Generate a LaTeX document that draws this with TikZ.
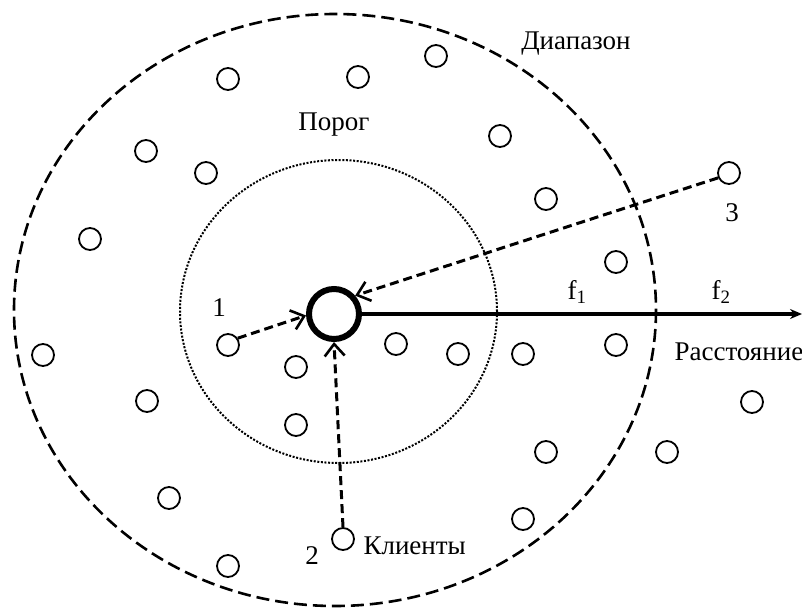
\documentclass[tikz,border=0pt]{standalone}
\usepackage{fontspec}
\setmainfont{Liberation Serif}
\usetikzlibrary{arrows.meta}

\tikzset{
  client/.style={draw, circle, line width=1.8pt, minimum size=22pt, inner sep=0pt},
  hub/.style={draw, circle, line width=6pt, minimum size=50pt, inner sep=0pt},
  link/.style={dash pattern=on 9pt off 5pt, line width=3pt,
    -{Straight Barb[length=12pt,width=20pt,line width=2.6pt]}},
}

\begin{document}
\begin{tikzpicture}[x=1pt, y=-1pt, font=\fontsize{27}{32}\selectfont]
  \useasboundingbox (0,0) rectangle (802,610);

  % range and threshold
  \draw[line width=2.6pt, dash pattern=on 13pt off 6pt] (335,310) ellipse (321 and 296);
  \draw[line width=2pt, dash pattern=on 2pt off 1.6pt] (338.5,311.5) ellipse (158.5 and 151.5);

  \node[hub] (hub) at (334,314) {};
  \coordinate (axisend) at (802,314);
  \draw[line width=3.6pt, -{Stealth[length=12pt,width=10pt]}] (hub.east) -- (axisend);

  % clients
  \node[client] (c1) at (228,345) {};
  \node[client] (c2) at (343,539) {};
  \node[client] (c3) at (729,173) {};
  \foreach \px/\py [count=\k] in {228/79, 358/77, 436/56, 146/151, 206/173, 500/136,
      546/199, 90/239, 616/262, 43/355, 296/367, 396/344, 458/354, 523/354, 616/345,
      752/402, 147/401, 296/425, 546/452, 667/452, 169/498, 523/519, 228/566}
    \node[client] (other\k) at (\px,\py) {};

  \draw[link] (c1.35) -- (hub.183);
  \draw[link] (c2.north) -- (hub.south);
  \draw[link] (c3.204) -- (hub.41);

  % labels
  \node (range) at (576,44) {Диапазон};
  \node (thresh) at (334,125) {Порог};
  \node (f1) at (577,292) {f\textsubscript{1}};
  \node (f2) at (721,292) {f\textsubscript{2}};
  \node[anchor=west] (dist) at (671,352) {Расстояние};
  \node[anchor=west] (clients) at (360,546) {Клиенты};
  \node (n1) at (219,308) {1};
  \node (n2) at (312,556) {2};
  \node (n3) at (732,213) {3};
\end{tikzpicture}
\end{document}
